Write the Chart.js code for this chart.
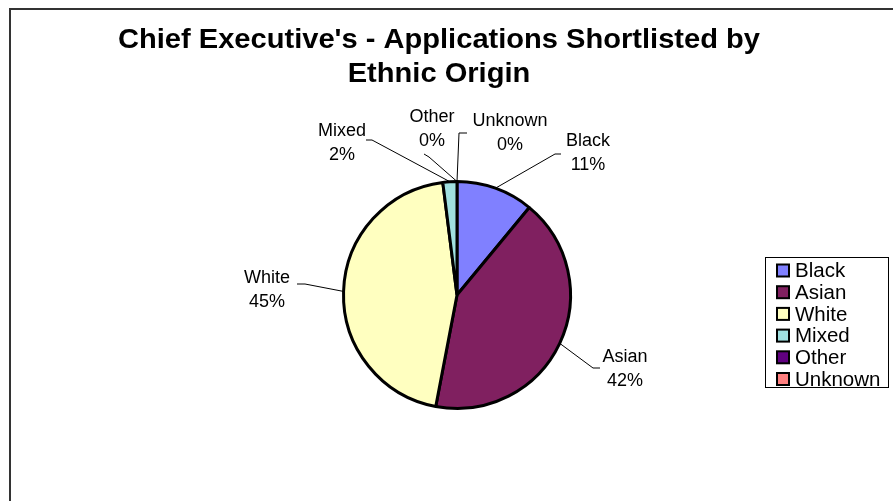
<!DOCTYPE html>
<html>
<head>
<meta charset="utf-8">
<script src="https://cdn.jsdelivr.net/npm/chart.js@4/dist/chart.umd.min.js"></script>
<style>
  html, body { margin: 0; padding: 0; background: #ffffff; }
  #wrap { width: 893px; height: 501px; position: relative; }
  canvas { display: block; }
</style>
</head>
<body>
<div id="wrap"><canvas id="chart" width="893" height="501"></canvas></div>
<script>
// Shortlisted applications by ethnic origin (percent)
const categories = ['Black', 'Asian', 'White', 'Mixed', 'Other', 'Unknown'];
const shares = [11, 42, 45, 2, 0, 0];
const sliceColors = ['#8080ff', '#802060', '#ffffc0', '#a0e0e0', '#600080', '#ff8080'];
const titleLines = ["Chief Executive's - Applications Shortlisted by", 'Ethnic Origin'];

// Label placement around the pie, relative to its centre:
// text centre, leader elbow, leader tip (the leader starts at the slice edge).
const labelLayout = [
  { text: [131, -142], elbow: [98, -141], tip: [104, -141] },
  { text: [168, 74],   elbow: [136, 73],  tip: [143, 73] },
  { text: [-190, -5],  elbow: [-152, -11], tip: [-160, -11] },
  { text: [-115, -152], elbow: [-85, -155], tip: [-91, -155] },
  { text: [-25, -166], elbow: [-28, -138], tip: [-33, -141] },
  { text: [53, -162],  elbow: [2, -162],  tip: [10, -162] }
];

const FONT = '"Liberation Sans", Arial, sans-serif';

const decorations = {
  id: 'decorations',
  afterDraw(chart) {
    const ctx = chart.ctx;
    ctx.save();

    // outer frame
    ctx.strokeStyle = '#333333';
    ctx.lineWidth = 2;
    ctx.strokeRect(10, 9, 960, 600);

    // title, widened slightly so the first line spans 642px
    ctx.fillStyle = '#000000';
    ctx.font = 'bold 27px ' + FONT;
    ctx.textAlign = 'center';
    ctx.textBaseline = 'alphabetic';
    const sx = 642 / ctx.measureText(titleLines[0]).width;
    ctx.save();
    ctx.translate(439, 0);
    ctx.scale(sx, 1);
    ctx.fillText(titleLines[0], 0, 48);
    ctx.fillText(titleLines[1], 0, 82);
    ctx.restore();

    // data labels with leader lines
    const meta = chart.getDatasetMeta(0);
    ctx.font = '18px ' + FONT;
    ctx.textBaseline = 'middle';
    meta.data.forEach((arc, i) => {
      const p = arc.getProps(['x', 'y', 'startAngle', 'endAngle', 'outerRadius'], true);
      const mid = (p.startAngle + p.endAngle) / 2;
      const ex = p.x + p.outerRadius * Math.cos(mid);
      const ey = p.y + p.outerRadius * Math.sin(mid);
      const L = labelLayout[i];
      ctx.strokeStyle = '#000000';
      ctx.lineWidth = 1;
      ctx.beginPath();
      ctx.moveTo(ex, ey);
      ctx.lineTo(p.x + L.elbow[0], p.y + L.elbow[1]);
      ctx.lineTo(p.x + L.tip[0], p.y + L.tip[1]);
      ctx.stroke();
      ctx.fillStyle = '#000000';
      ctx.fillText(categories[i], p.x + L.text[0], p.y + L.text[1] - 12);
      ctx.fillText(Math.round(shares[i]) + '%', p.x + L.text[0], p.y + L.text[1] + 12);
    });

    // legend
    const lx = 765, ly = 257, lw = 123, lh = 130;
    ctx.fillStyle = '#ffffff';
    ctx.fillRect(lx, ly, lw, lh);
    ctx.strokeStyle = '#000000';
    ctx.lineWidth = 1;
    ctx.strokeRect(lx + 0.5, ly + 0.5, lw, lh);
    ctx.font = '20.5px ' + FONT;
    ctx.textAlign = 'left';
    categories.forEach((name, i) => {
      const cy = 270.5 + i * 21.7;
      ctx.fillStyle = sliceColors[i];
      ctx.fillRect(777, cy - 6, 12, 12);
      ctx.strokeStyle = '#000000';
      ctx.lineWidth = 2;
      ctx.strokeRect(777, cy - 6, 12, 12);
      ctx.fillStyle = '#000000';
      ctx.fillText(name, 795, cy + 1);
    });

    ctx.restore();
  }
};

new Chart(document.getElementById('chart'), {
  type: 'pie',
  data: {
    labels: categories,
    datasets: [{
      data: shares,
      backgroundColor: sliceColors,
      borderColor: '#000000',
      borderWidth: 3
    }]
  },
  options: {
    responsive: false,
    animation: false,
    devicePixelRatio: 1,
    layout: { padding: { left: 342, right: 321, top: 180, bottom: 91 } },
    plugins: {
      legend: { display: false },
      title: { display: false },
      tooltip: { enabled: false }
    }
  },
  plugins: [decorations]
});
</script>
</body>
</html>
